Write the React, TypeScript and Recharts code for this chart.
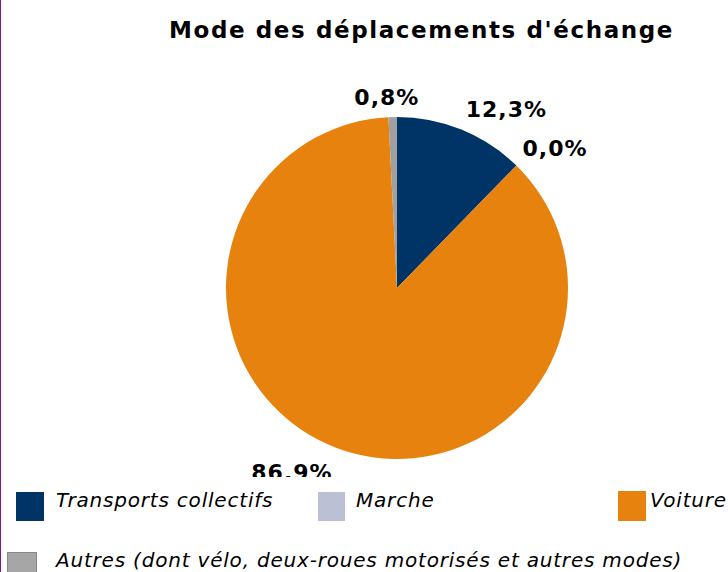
import React from 'react';
import { PieChart, Pie, Cell, Legend } from 'recharts';

const categories = ['Transports collectifs', 'Marche', 'Voiture', 'Autres (dont vélo, deux-roues motorisés et autres modes)'];
const values = [12.3, 0.0, 86.9, 0.8];
const sliceColors = ['#003366', '#BBC0D5', '#E8820E', '#A0A0A0'];
const legendColors = ['#003366', '#BBC0D5', '#E8820E', '#A6A6A6'];

const data = categories.map((name, i) => ({ name, value: values[i] }));

// label placement tweaks (angle offset in degrees, radial offset in px)
const labelTweak = [
  { da: -9.4, dr: 38 },
  { da: -4.2, dr: 40 },
  { da: -9, dr: 41 },
  { da: 1.6, dr: 20 },
];

// legend item placement (relative to legend band)
const legendLayout = [
  { sx: 16, sy: 15, sw: 28, sh: 29, tx: 56, ty: 23 },
  { sx: 318, sy: 15, sw: 27, sh: 29, tx: 356, ty: 23 },
  { sx: 618, sy: 14, sw: 28, sh: 30, tx: 650, ty: 23 },
  { sx: 7, sy: 75, sw: 30, sh: 30, tx: 56, ty: 83 },
];

const FONT = '"DejaVu Sans", Verdana, sans-serif';

const fmt = (v: number) => v.toFixed(1).replace('.', ',') + '%';

const renderLabel = (props: any) => {
  const { cx, cy, midAngle, outerRadius, index, value } = props;
  const t = labelTweak[index] || { da: 0, dr: 30 };
  const a = ((midAngle + t.da) * Math.PI) / 180;
  const r = outerRadius + t.dr;
  const x = cx + r * Math.cos(a);
  const y = cy - r * Math.sin(a);
  return (
    <text
      x={x}
      y={y}
      textAnchor="middle"
      dominantBaseline="central"
      fontFamily={FONT}
      fontWeight="bold"
      fontSize={22}
      letterSpacing={1}
      fill="#000"
    >
      {fmt(value)}
    </text>
  );
};

const renderLegend = () => (
  <div style={{ position: 'relative', width: 728, height: 95, background: '#fff' }}>
    {categories.map((name, i) => {
      const l = legendLayout[i];
      return (
        <React.Fragment key={name}>
          <div
            style={{
              position: 'absolute',
              left: l.sx,
              top: l.sy,
              width: l.sw,
              height: l.sh,
              background: legendColors[i],
              boxSizing: 'border-box',
              border: i === 3 ? '1px solid #888' : 'none',
            }}
          />
          <div
            style={{
              position: 'absolute',
              left: l.tx,
              top: l.ty,
              transform: 'translateY(-50%)',
              fontFamily: FONT,
              fontStyle: 'italic',
              fontSize: 20,
              letterSpacing: 0.8,
              color: '#000',
              whiteSpace: 'nowrap',
              lineHeight: 1,
            }}
          >
            {name}
          </div>
        </React.Fragment>
      );
    })}
  </div>
);

export default function App() {
  return (
    <div
      style={{
        position: 'absolute',
        left: 0,
        top: 0,
        width: 728,
        height: 572,
        background: '#fff',
        overflow: 'hidden',
      }}
    >
      <PieChart width={728} height={572} margin={{ top: 0, right: 0, bottom: 0, left: 0 }}>
        <Pie
          data={data}
          dataKey="value"
          nameKey="name"
          cx={397}
          cy={288}
          outerRadius={171}
          startAngle={90}
          endAngle={-270}
          stroke="none"
          label={renderLabel}
          labelLine={false}
          isAnimationActive={false}
        >
          {data.map((d, i) => (
            <Cell key={d.name} fill={sliceColors[i]} />
          ))}
        </Pie>
        <Legend
          content={renderLegend}
          wrapperStyle={{ position: 'absolute', left: 0, top: 477, width: 728, height: 95 }}
        />
      </PieChart>
      <div
        style={{
          position: 'absolute',
          left: 0,
          top: 30,
          width: 843,
          textAlign: 'center',
          transform: 'translateY(-50%)',
          fontFamily: FONT,
          fontWeight: 'bold',
          fontSize: 23,
          letterSpacing: 1.6,
          lineHeight: 1,
          color: '#000',
          whiteSpace: 'nowrap',
        }}
      >
        Mode des déplacements d'échange
      </div>
      <div
        style={{
          position: 'absolute',
          left: 0,
          top: 0,
          width: 1,
          height: 572,
          background: '#7F1A7F',
        }}
      />
    </div>
  );
}
